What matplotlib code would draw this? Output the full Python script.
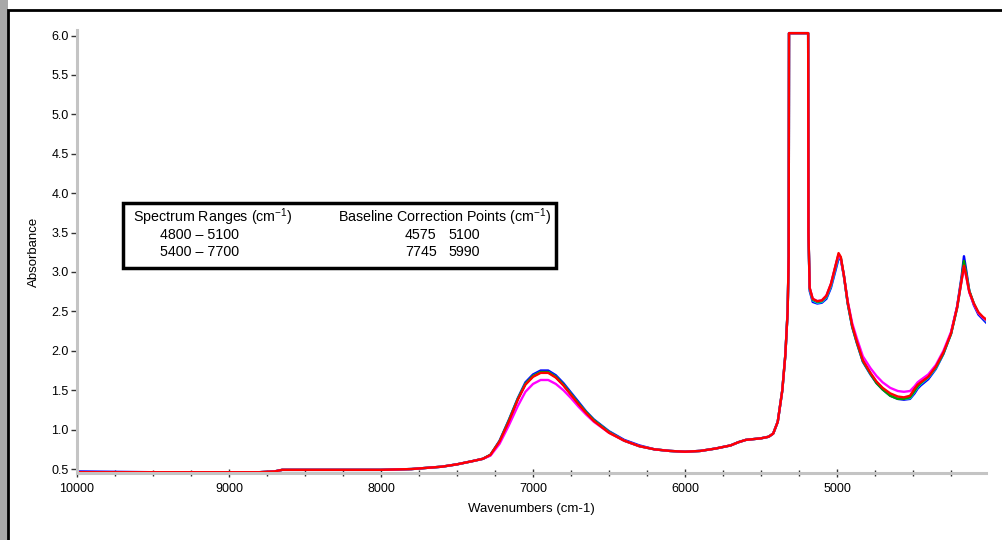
import matplotlib
matplotlib.use("Agg")
import matplotlib.pyplot as plt
from matplotlib.patches import Rectangle
from matplotlib.ticker import MultipleLocator

plt.rcParams['font.family'] = ['Liberation Sans', 'DejaVu Sans']
plt.rcParams['mathtext.default'] = 'regular'

wavenumbers = [10000, 9500, 9000, 8800, 8700, 8650, 8500, 8000, 7800, 7600, 7500, 7400,
               7330, 7280, 7220, 7160, 7100, 7050, 7000, 6950, 6900, 6850, 6800, 6750,
               6700, 6650, 6600, 6500, 6400, 6300, 6200, 6100, 6000, 5900, 5800, 5700,
               5650, 5600, 5550, 5500, 5450, 5420, 5390, 5360, 5340, 5325, 5318, 5316,
               5190, 5188, 5180, 5160, 5130, 5100, 5070, 5040, 5010, 4990, 4975, 4955,
               4930, 4900, 4870, 4830, 4780, 4740, 4700, 4650, 4600, 4560, 4520, 4490,
               4470, 4450, 4400, 4350, 4300, 4250, 4210, 4180, 4165, 4150, 4130, 4100,
               4070, 4040, 4020]

abs_blue = [0.47, 0.46, 0.46, 0.46, 0.47, 0.49, 0.49, 0.49, 0.50, 0.53, 0.56, 0.60,
            0.63, 0.68, 0.86, 1.12, 1.40, 1.60, 1.70, 1.75, 1.75, 1.69, 1.59, 1.47,
            1.35, 1.23, 1.13, 0.98, 0.87, 0.80, 0.75, 0.73, 0.72, 0.73, 0.76, 0.80,
            0.84, 0.87, 0.88, 0.89, 0.91, 0.95, 1.10, 1.50, 1.95, 2.50, 3.20, 6.03,
            6.03, 3.50, 2.76, 2.62, 2.60, 2.61, 2.66, 2.80, 3.02, 3.17, 3.16, 2.96,
            2.60, 2.30, 2.10, 1.86, 1.70, 1.59, 1.51, 1.43, 1.39, 1.38, 1.39, 1.46,
            1.52, 1.56, 1.64, 1.77, 1.96, 2.22, 2.56, 2.95, 3.20, 3.02, 2.76, 2.58,
            2.46, 2.40, 2.36]

abs_cyan = [0.46, 0.46, 0.46, 0.46, 0.47, 0.49, 0.49, 0.49, 0.50, 0.53, 0.56, 0.60,
            0.63, 0.68, 0.85, 1.11, 1.39, 1.58, 1.68, 1.73, 1.73, 1.67, 1.57, 1.45,
            1.33, 1.22, 1.12, 0.97, 0.86, 0.79, 0.75, 0.73, 0.72, 0.73, 0.76, 0.80,
            0.84, 0.87, 0.88, 0.89, 0.91, 0.95, 1.10, 1.50, 1.95, 2.50, 3.20, 6.03,
            6.03, 3.50, 2.78, 2.64, 2.61, 2.62, 2.68, 2.82, 3.05, 3.20, 3.17, 2.95,
            2.61, 2.31, 2.11, 1.87, 1.71, 1.60, 1.52, 1.44, 1.40, 1.39, 1.40, 1.48,
            1.54, 1.58, 1.66, 1.78, 1.97, 2.21, 2.54, 2.90, 3.10, 2.97, 2.76, 2.60,
            2.48, 2.42, 2.38]

abs_green = [0.46, 0.46, 0.46, 0.46, 0.47, 0.49, 0.49, 0.49, 0.50, 0.53, 0.56, 0.60,
             0.63, 0.68, 0.85, 1.11, 1.39, 1.58, 1.68, 1.73, 1.73, 1.67, 1.57, 1.45,
             1.33, 1.22, 1.12, 0.97, 0.86, 0.79, 0.75, 0.73, 0.72, 0.73, 0.76, 0.80,
             0.84, 0.87, 0.88, 0.89, 0.91, 0.95, 1.10, 1.50, 1.95, 2.50, 3.20, 6.03,
             6.03, 3.50, 2.79, 2.65, 2.62, 2.63, 2.69, 2.84, 3.07, 3.22, 3.18, 2.95,
             2.61, 2.31, 2.11, 1.87, 1.71, 1.59, 1.51, 1.43, 1.39, 1.39, 1.41, 1.49,
             1.55, 1.59, 1.67, 1.79, 1.97, 2.22, 2.55, 2.92, 3.14, 2.98, 2.76, 2.60,
             2.48, 2.42, 2.39]

abs_magenta = [0.46, 0.46, 0.46, 0.46, 0.47, 0.49, 0.49, 0.49, 0.50, 0.53, 0.56, 0.60,
               0.63, 0.67, 0.82, 1.05, 1.30, 1.48, 1.58, 1.63, 1.63, 1.58, 1.50, 1.40,
               1.29, 1.19, 1.10, 0.96, 0.86, 0.79, 0.75, 0.73, 0.72, 0.73, 0.76, 0.80,
               0.84, 0.87, 0.88, 0.89, 0.91, 0.95, 1.10, 1.50, 1.95, 2.50, 3.20, 6.03,
               6.03, 3.50, 2.80, 2.66, 2.63, 2.64, 2.70, 2.85, 3.08, 3.22, 3.17, 2.95,
               2.63, 2.35, 2.16, 1.93, 1.78, 1.68, 1.60, 1.53, 1.49, 1.48, 1.49, 1.55,
               1.60, 1.63, 1.70, 1.82, 2.00, 2.24, 2.56, 2.90, 3.06, 2.94, 2.74, 2.59,
               2.48, 2.42, 2.39]

abs_red = [0.46, 0.46, 0.46, 0.46, 0.47, 0.49, 0.49, 0.49, 0.50, 0.53, 0.56, 0.60,
           0.63, 0.68, 0.85, 1.10, 1.38, 1.57, 1.67, 1.72, 1.72, 1.66, 1.56, 1.44,
           1.32, 1.21, 1.11, 0.96, 0.86, 0.79, 0.75, 0.73, 0.72, 0.73, 0.76, 0.80,
           0.84, 0.87, 0.88, 0.89, 0.91, 0.95, 1.10, 1.50, 1.95, 2.50, 3.20, 6.03,
           6.03, 3.50, 2.80, 2.66, 2.63, 2.64, 2.70, 2.85, 3.08, 3.24, 3.19, 2.96,
           2.62, 2.32, 2.12, 1.88, 1.72, 1.61, 1.53, 1.46, 1.42, 1.41, 1.43, 1.52,
           1.57, 1.60, 1.67, 1.80, 1.98, 2.22, 2.55, 2.90, 3.08, 2.95, 2.75, 2.60,
           2.49, 2.43, 2.40]

series = [("#0000ff", abs_blue), ("#00e5ee", abs_cyan), ("#00a000", abs_green),
          ("#ff00ff", abs_magenta), ("#ff0000", abs_red)]

x_major = [10000, 9000, 8000, 7000, 6000, 5000]
y_major = [0.5, 1.0, 1.5, 2.0, 2.5, 3.0, 3.5, 4.0, 4.5, 5.0, 5.5, 6.0]

fig = plt.figure(figsize=(10.03, 5.40), dpi=100)
fig.patch.set_facecolor("white")

# gray backdrop at far left and outer frame
fig.add_artist(Rectangle((0, 0), 8 / 1003, 1, transform=fig.transFigure,
                         facecolor="#a8a8a8", edgecolor="none"))
fig.add_artist(Rectangle((8 / 1003, -0.05), 1.1, 1 - 10 / 540 + 0.05, transform=fig.transFigure,
                         facecolor="none", edgecolor="black", lw=2))

ax = fig.add_axes([77 / 1003, 1 - 473 / 540, (986 - 77) / 1003, (473 - 30) / 540])
for color, vals in series:
    ax.plot(wavenumbers, vals, color=color, lw=1.7, solid_joinstyle="round")

ax.set_xlim(10000, 4020)
ax.set_ylim(0.45, 6.07)
ax.set_xticks(x_major)
ax.set_xticklabels([str(v) for v in x_major])
ax.set_yticks(y_major)
ax.set_yticklabels([f"{v:.1f}" for v in y_major])
ax.xaxis.set_minor_locator(MultipleLocator(250))
ax.yaxis.set_minor_locator(MultipleLocator(0.125))

for s in ["top", "right"]:
    ax.spines[s].set_visible(False)
for s in ["left", "bottom"]:
    ax.spines[s].set_color("#c4c4c4")
    ax.spines[s].set_linewidth(2.2)

ax.tick_params(axis="y", which="major", direction="out", length=4, width=1, color="#333333",
               labelsize=9, pad=2)
ax.tick_params(axis="y", which="minor", direction="inout", length=2, width=1, color="#333333")
ax.tick_params(axis="x", which="major", direction="inout", length=6, width=1, color="#333333",
               labelsize=9, pad=4)
ax.tick_params(axis="x", which="minor", direction="inout", length=4, width=1, color="#333333")

ax.set_xlabel("Wavenumbers (cm-1)", fontsize=9.5, labelpad=6)
ax.set_ylabel("Absorbance", fontsize=9.5, labelpad=8)

# inset table box
fig.add_artist(Rectangle((123 / 1003, 1 - 268 / 540), (556 - 123) / 1003, (268 - 203) / 540,
                         transform=fig.transFigure, facecolor="white", edgecolor="black", lw=2.5))
fs = 10.3
def ftxt(px, py, s, ha="left"):
    fig.text(px / 1003, 1 - py / 540, s, fontsize=fs, ha=ha, va="center")

ftxt(133, 217, "Spectrum Ranges (cm$^{-1}$)")
ftxt(160, 235, "4800 – 5100")
ftxt(160, 252, "5400 – 7700")
ftxt(338, 217, "Baseline Correction Points (cm$^{-1}$)")
ftxt(405, 235, "4575")
ftxt(448, 235, "5100")
ftxt(405, 252, "7745")
ftxt(448, 252, "5990")

fig.savefig("out.png", dpi=100)
